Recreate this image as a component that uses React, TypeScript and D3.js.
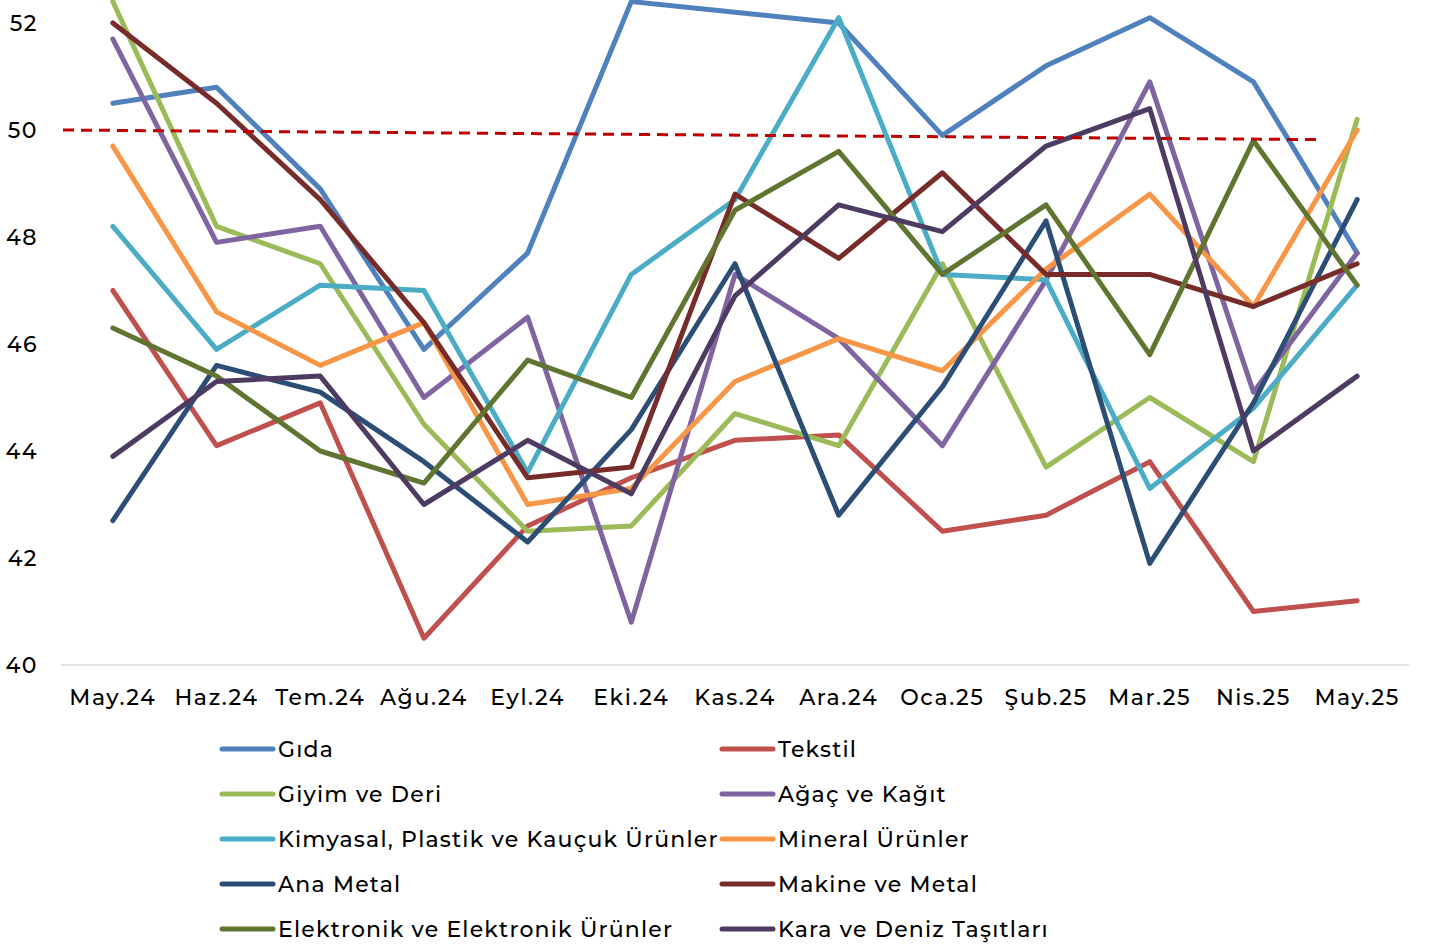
import * as React from "react";
import * as d3 from "d3";

// months on the x axis
const months = [
	"May.24", "Haz.24", "Tem.24", "Ağu.24", "Eyl.24", "Eki.24", "Kas.24",
	"Ara.24", "Oca.25", "Şub.25", "Mar.25", "Nis.25", "May.25",
];

const gida = [50.5, 50.8, 48.9, 45.9, 47.7, 52.4, 52.2, 52.0, 49.9, 51.2, 52.1, 50.9, 47.7];
const tekstil = [47.0, 44.1, 44.9, 40.5, 42.6, 43.5, 44.2, 44.3, 42.5, 42.8, 43.8, 41.0, 41.2];
const giyim = [52.4, 48.2, 47.5, 44.5, 42.5, 42.6, 44.7, 44.1, 47.5, 43.7, 45.0, 43.8, 50.2];
const agac = [51.7, 47.9, 48.2, 45.0, 46.5, 40.8, 47.3, 46.1, 44.1, 47.2, 50.9, 45.1, 47.7];
const kimyasal = [48.2, 45.9, 47.1, 47.0, 43.6, 47.3, 48.7, 52.1, 47.3, 47.2, 43.3, 44.8, 47.1];
const mineral = [49.7, 46.6, 45.6, 46.4, 43.0, 43.3, 45.3, 46.1, 45.5, 47.4, 48.8, 46.7, 50.0];
const anaMetal = [42.7, 45.6, 45.1, 43.8, 42.3, 44.4, 47.5, 42.8, 45.2, 48.3, 41.9, 44.9, 48.7];
const makine = [52.0, 50.5, 48.7, 46.4, 43.5, 43.7, 48.8, 47.6, 49.2, 47.3, 47.3, 46.7, 47.5];
const elektronik = [46.3, 45.4, 44.0, 43.4, 45.7, 45.0, 48.5, 49.6, 47.3, 48.6, 45.8, 49.8, 47.1];
const kara = [43.9, 45.3, 45.4, 43.0, 44.2, 43.2, 46.9, 48.6, 48.1, 49.7, 50.4, 44.0, 45.4];

const seriesNames = [
	"Gıda", "Tekstil", "Giyim ve Deri", "Ağaç ve Kağıt",
	"Kimyasal, Plastik ve Kauçuk Ürünler", "Mineral Ürünler",
	"Ana Metal", "Makine ve Metal",
	"Elektronik ve Elektronik Ürünler", "Kara ve Deniz Taşıtları",
];
const seriesValues = [gida, tekstil, giyim, agac, kimyasal, mineral, anaMetal, makine, elektronik, kara];
const colors = [
	"#4F81BD", "#C0504D", "#9BBB59", "#8064A2", "#4BACC6", "#F79646",
	"#2C4D75", "#772C2A", "#5F7530", "#4D3B62",
];

const yTicks = [40, 42, 44, 46, 48, 50, 52];
// the hand-drawn 50 threshold, slightly tilted
const thresholdStart = 50.0;
const thresholdEnd = 49.82;

const font = "Montserrat, 'Noto Sans', sans-serif";

export default function App() {
	const width = 1430;
	const height = 947;
	const plotLeft = 61;
	const plotRight = 1409;
	const plotTop = 23;
	const plotBottom = 665;

	const xScale = d3.scalePoint<string>().domain(months).range([plotLeft, plotRight]).padding(0.5);
	const yScale = d3.scaleLinear().domain([40, 52]).range([plotBottom, plotTop]);

	const line = d3
		.line<number>()
		.x((_, i) => xScale(months[i])!)
		.y((d) => yScale(d));

	const legendX = [222, 722];
	const legendY0 = 749;
	const legendStep = 45;

	return (
		<svg
			width={width}
			height={height}
			style={{ position: "absolute", left: 0, top: 0, background: "white" }}
			fontFamily={font}
			fontWeight={500}
		>
			<line x1={plotLeft} x2={plotRight} y1={plotBottom} y2={plotBottom} stroke="#D9D9D9" strokeWidth={1.5} />
			{yTicks.map((t) => (
				<text key={t} x={38} y={yScale(t)} dy="0.35em" textAnchor="end" fontSize={22} fill="#000" letterSpacing={1.5}>
					{t}
				</text>
			))}
			{months.map((m) => (
				<text key={m} x={xScale(m)} y={697} dy="0.35em" textAnchor="middle" fontSize={22} fill="#000" letterSpacing={1.6}>
					{m}
				</text>
			))}
			{seriesValues.map((vals, i) => (
				<path
					key={seriesNames[i]}
					d={line(vals)!}
					fill="none"
					stroke={colors[i]}
					strokeWidth={5}
					strokeLinejoin="round"
					strokeLinecap="round"
				/>
			))}
			<line
				x1={63}
				x2={1319}
				y1={yScale(thresholdStart)}
				y2={yScale(thresholdEnd)}
				stroke="#C00000"
				strokeWidth={3}
				strokeDasharray="11 7"
			/>
			{seriesNames.map((name, i) => {
				const x = legendX[i % 2];
				const y = legendY0 + Math.floor(i / 2) * legendStep;
				return (
					<g key={name}>
						<line x1={x} x2={x + 51} y1={y} y2={y} stroke={colors[i]} strokeWidth={5} strokeLinecap="round" />
						<text x={x + 56} y={y} dy="0.35em" fontSize={22} fill="#000" letterSpacing={1.2}>
							{name}
						</text>
					</g>
				);
			})}
		</svg>
	);
}
